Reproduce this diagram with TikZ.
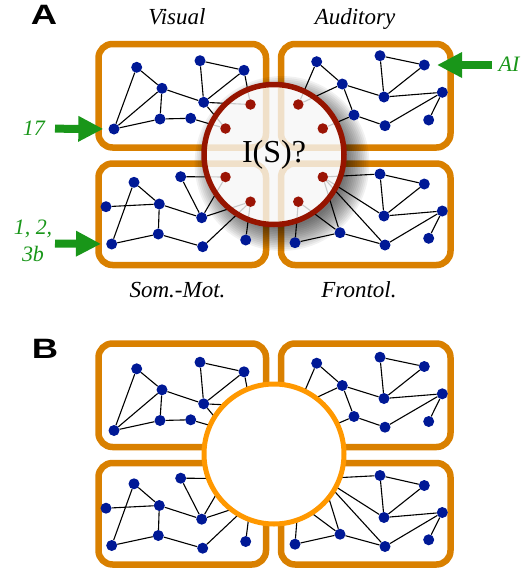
\documentclass[tikz,border=0pt]{standalone}
\usepackage{fontspec}
\setmainfont{Liberation Serif}
\newfontfamily\panelfont{Liberation Sans}
\usetikzlibrary{arrows.meta}

\definecolor{boxorange}{RGB}{217,128,0}
\definecolor{lensorange}{RGB}{255,152,0}
\definecolor{lensred}{RGB}{150,20,0}
\definecolor{dotblue}{RGB}{0,25,150}
\definecolor{dotred}{RGB}{155,20,5}
\definecolor{markgreen}{RGB}{25,150,25}

\pgfdeclarelayer{boxlayer}
\pgfdeclarelayer{shadowlayer}
\pgfdeclarelayer{edgelayer}
\pgfdeclarelayer{lenslayer}
\pgfdeclarelayer{toplayer}
\pgfsetlayers{boxlayer,shadowlayer,edgelayer,main,lenslayer,toplayer}

% the four cortical networks; hub nodes sit under the central lens
\newcommand\corticalnet{%
  % visual
  \node[dot] (v1)  at (136.7,67.3) {};
  \node[dot] (v2)  at (200,60.7) {};
  \node[dot] (v3)  at (244,70.3) {};
  \node[dot] (v4)  at (162,88.3) {};
  \node[dot] (v5)  at (203.7,102.3) {};
  \node[dot] (v7)  at (160,119) {};
  \node[dot] (v8)  at (190.7,118.3) {};
  \node[dot] (v10) at (114,129) {};
  % auditory
  \node[dot] (a1)  at (316.7,61.7) {};
  \node[dot] (a2)  at (380,55.7) {};
  \node[dot] (a3)  at (424.3,65) {};
  \node[dot] (a4)  at (342.3,84) {};
  \node[dot] (a5)  at (384,97) {};
  \node[dot] (a6)  at (442.3,92.3) {};
  \node[dot] (a8)  at (354,115) {};
  \node[dot] (a9)  at (385,125.7) {};
  \node[dot] (a10) at (428.7,120) {};
  % somato-motor
  \node[dot] (s1)  at (134,182.3) {};
  \node[dot] (s2)  at (180.7,176.7) {};
  \node[dot] (s4)  at (106,206.7) {};
  \node[dot] (s5)  at (159.3,204) {};
  \node[dot] (s7)  at (201.7,217.7) {};
  \node[dot] (s8)  at (158.3,234) {};
  \node[dot] (s9)  at (111.7,244) {};
  \node[dot] (s10) at (202.7,246.7) {};
  \node[dot] (s11) at (245.7,240) {};
  % frontal
  \node[dot] (f2)  at (380,174) {};
  \node[dot] (f3)  at (424.3,184) {};
  \node[dot] (f5)  at (384,216) {};
  \node[dot] (f6)  at (442.3,211) {};
  \node[dot] (f7)  at (340,232.7) {};
  \node[dot] (f8)  at (295,242.7) {};
  \node[dot] (f9)  at (385,245) {};
  \node[dot] (f10) at (428.7,238.3) {};
  % hubs
  \begin{pgfonlayer}{toplayer}
    \node[hub] (v6)  at (250.5,104.5) {};
    \node[hub] (v9)  at (225.5,128.5) {};
    \node[hub] (a7)  at (298.3,104.5) {};
    \node[hub] (a11) at (322.8,128.5) {};
    \node[hub] (s3)  at (225.5,177) {};
    \node[hub] (s6)  at (250.5,201.7) {};
    \node[hub] (f1)  at (322.8,177) {};
    \node[hub] (f4)  at (298.3,201.7) {};
  \end{pgfonlayer}
  \begin{pgfonlayer}{edgelayer}
    \draw[link] (v1)--(v10) (v1)--(v4) (v4)--(v10) (v4)--(v7) (v7)--(v10)
      (v4)--(v5) (v2)--(v5) (v2)--(v3) (v3)--(v5) (v5)--(v6) (v3)--(v6)
      (v5)--(v9) (v7)--(v8) (v8)--(v9);
    \draw[link] (a1)--(a4) (a1)--(a7) (a4)--(a7) (a4)--(a5) (a4)--(a8)
      (a2)--(a5) (a2)--(a3) (a3)--(a5) (a5)--(a6) (a8)--(a9) (a9)--(a6)
      (a6)--(a10) (a8)--(a11);
    \draw[link] (s1)--(s9) (s1)--(s5) (s4)--(s5) (s5)--(s7) (s5)--(s8)
      (s8)--(s9) (s8)--(s10) (s2)--(s7) (s2)--(s3) (s7)--(s3) (s7)--(s6)
      (s10)--(s6) (s11)--(s6);
    \draw[link] (f1)--(f2) (f1)--(f5) (f1)--(f9) (f1)--(f7) (f4)--(f7)
      (f4)--(f8) (f2)--(f3) (f2)--(f5) (f3)--(f5) (f5)--(f6) (f6)--(f10)
      (f6)--(f9) (f7)--(f9) (f7)--(f8);
  \end{pgfonlayer}
}

% the four area frames
\newcommand\areaframes{%
  \begin{pgfonlayer}{boxlayer}
    \draw[areabox] (98.5,44) rectangle (266,147.5);
    \draw[areabox] (281,44) rectangle (450.5,147.5);
    \draw[areabox] (98.5,163.5) rectangle (266,265);
    \draw[areabox] (281,163.5) rectangle (450.5,265);
  \end{pgfonlayer}
}

\begin{document}
\begin{tikzpicture}[x=1pt,y=-1pt,
  areabox/.style={draw=boxorange, line width=6.5pt, rounded corners=14pt},
  dot/.style={circle, fill=dotblue, inner sep=0pt, minimum size=11pt},
  link/.style={draw=black, line width=1.1pt},
  lensA/.style={circle, minimum size=140pt, inner sep=0pt, draw=lensred,
    line width=5.5pt, fill=gray!7, fill opacity=0.82, text opacity=1,
    font=\fontsize{32}{36}\selectfont},
  lensB/.style={circle, minimum size=140pt, inner sep=0pt, draw=lensorange,
    line width=5pt, fill=white},
  region/.style={font=\fontsize{23}{27}\selectfont\itshape, anchor=base},
  greenlabel/.style={text=markgreen, font=\fontsize{22}{27}\selectfont\itshape, align=center},
  garrow/.style={draw=markgreen, line width=8pt,
    -{Triangle[length=25pt,width=24pt]}},
  panel/.style={font=\panelfont\bfseries\fontsize{28}{30}\selectfont, inner sep=0pt}]

\useasboundingbox (0,0) rectangle (529,574);

% ---------------- panel A ----------------
\node[panel] (labA) at (44,15) {\scalebox{1.3}[1]{A}};
\node[region] (visual) at (177,24) {Visual};
\node[region] (auditory) at (355,24) {Auditory};
\node[region] (sommot) at (177.5,297) {Som.-Mot.};
\node[region] (frontol) at (359,297) {Frontol.};

\areaframes
\begin{scope}[name prefix=pa-, hub/.style={circle, fill=dotred, inner sep=0pt, minimum size=10.5pt}]
  \corticalnet
\end{scope}

% soft shadow of the lens, falling to the lower right
\begin{pgfonlayer}{shadowlayer}
  \begin{scope}[even odd rule]
    \clip (0,0) rectangle (529,574) (274,154.5) circle[radius=70pt];
    \foreach \k in {0,...,13}
      \fill[black, opacity=0.055] (282,163.5) circle[radius=64pt+1.8pt*\k];
  \end{scope}
\end{pgfonlayer}

\begin{pgfonlayer}{lenslayer}
  \node[lensA] (lensA) at (274,154.5) {I(S)?};
\end{pgfonlayer}

% input markers
\coordinate (tail17) at (55,128.7);
\draw[garrow, shorten >=5pt] (tail17) -- (pa-v10);
\node[greenlabel] (l17) at (34,128) {17};
\coordinate (tailS) at (55,243.5);
\draw[garrow, shorten >=5pt] (tailS) -- (pa-s9);
\node[greenlabel] (l123) at (33,241) {1, 2,\\3b};
\coordinate (tailAI) at (492,65);
\draw[garrow, shorten >=7pt] (tailAI) -- (pa-a3);
\node[greenlabel] (lAI) at (509,64) {AI};

% ---------------- panel B ----------------
\node[panel] (labB) at (45,349) {\scalebox{1.3}[1]{B}};
\begin{scope}[yshift=-299.5pt]
  \areaframes
\end{scope}
\begin{scope}[yshift=-301.5pt, name prefix=pb-, hub/.style={coordinate}]
  \corticalnet
\end{scope}
\begin{pgfonlayer}{lenslayer}
  \node[lensB] (lensB) at (274,454) {};
\end{pgfonlayer}

\end{tikzpicture}
\end{document}
